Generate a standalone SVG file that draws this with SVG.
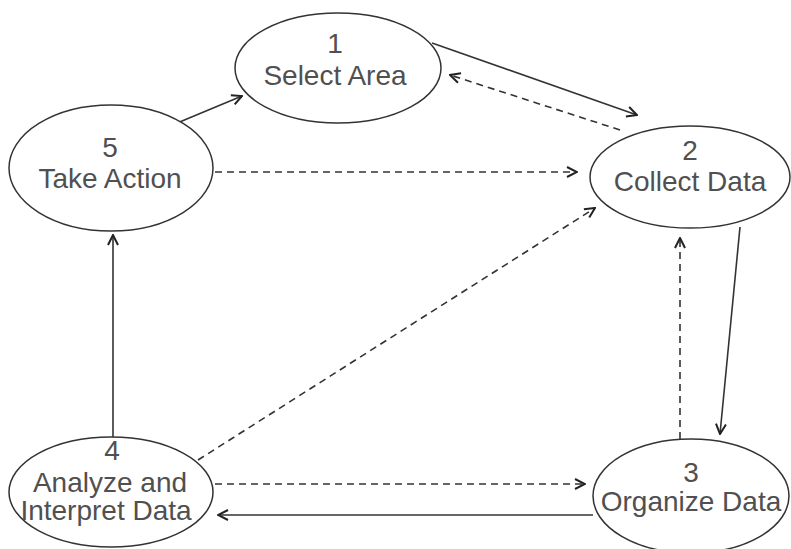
<svg xmlns="http://www.w3.org/2000/svg" width="791" height="549" viewBox="0 0 791 549">
<style>
.node ellipse{fill:#fff;stroke:#333;stroke-width:1.5}
.node text{font-family:"Liberation Sans","DejaVu Sans",sans-serif;font-size:28px;fill:#505050;text-anchor:middle}
.c{fill:none;stroke:#333;stroke-width:1.6}
.d{stroke-dasharray:7 5}
</style>
<defs>
<marker id="ah" viewBox="0 0 12 12" refX="11" refY="6" markerWidth="12" markerHeight="12" markerUnits="userSpaceOnUse" orient="auto">
<path d="M1,1 L11,6 L1,11" fill="none" stroke="#222" stroke-width="2"/>
</marker>
</defs>
<g id="connectors">
<line class="c" x1="432" y1="43" x2="637" y2="115" marker-end="url(#ah)"/>
<line class="c d" x1="620" y1="130" x2="450" y2="75" marker-end="url(#ah)"/>
<line class="c d" x1="215" y1="172" x2="577" y2="172" marker-end="url(#ah)"/>
<line class="c" x1="170" y1="126" x2="242" y2="96" marker-end="url(#ah)"/>
<line class="c" x1="113" y1="437" x2="113" y2="235" marker-end="url(#ah)"/>
<line class="c d" x1="198" y1="460" x2="595" y2="208" marker-end="url(#ah)"/>
<line class="c d" x1="215" y1="484" x2="585" y2="484" marker-end="url(#ah)"/>
<line class="c" x1="593" y1="515" x2="218" y2="515" marker-end="url(#ah)"/>
<line class="c" x1="740" y1="227" x2="720" y2="434" marker-end="url(#ah)"/>
<line class="c d" x1="680" y1="439" x2="680" y2="238" marker-end="url(#ah)"/>
</g>
<g id="n1" class="node">
<ellipse cx="338" cy="68" rx="103" ry="55"/>
<text x="335" y="53">1</text>
<text x="335" y="85">Select Area</text>
</g>
<g id="n2" class="node">
<ellipse cx="690" cy="177" rx="100" ry="51"/>
<text x="690" y="160">2</text>
<text x="690" y="191">Collect Data</text>
</g>
<g id="n3" class="node">
<ellipse cx="691" cy="496" rx="98" ry="57"/>
<text x="691" y="482">3</text>
<text x="691" y="511">Organize Data</text>
</g>
<g id="n4" class="node">
<ellipse cx="111" cy="492" rx="102" ry="55"/>
<text x="112" y="460">4</text>
<text x="110" y="492">Analyze and</text>
<text x="106" y="520">Interpret Data</text>
</g>
<g id="n5" class="node">
<ellipse cx="111" cy="168" rx="102" ry="63"/>
<text x="110" y="157">5</text>
<text x="110" y="188">Take Action</text>
</g>
</svg>
